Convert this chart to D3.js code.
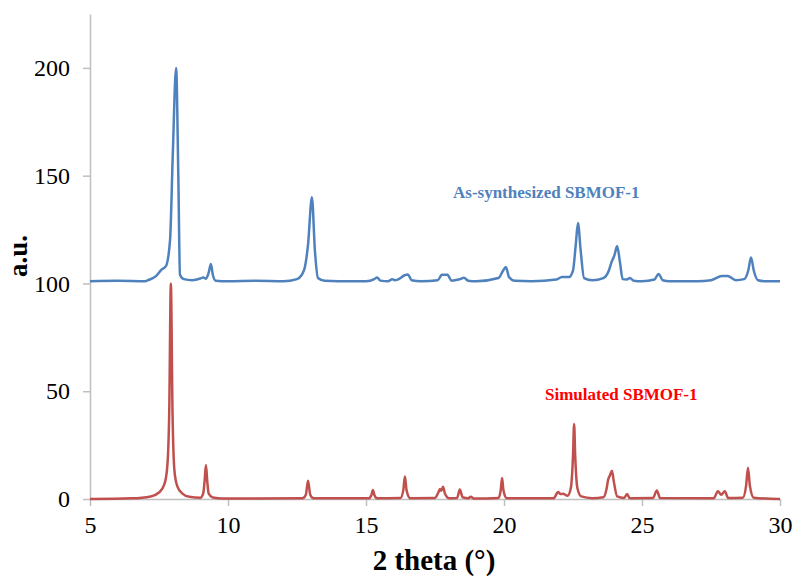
<!DOCTYPE html>
<html>
<head>
<meta charset="utf-8">
<script src="https://cdn.jsdelivr.net/npm/d3@7"></script>
<style>
    body { margin: 0; background: #fff; }
    svg text { font-family: "Liberation Serif", "Times New Roman", serif; }
    .axis path, .axis line { stroke: #bfbfbf; stroke-width: 1.5; }
</style>
</head>
<body>
<svg width="794" height="578" class="xrd"></svg>
<script>

// x ticks / y ticks
var xTicks = [5, 10, 15, 20, 25, 30];
var yTicks = [0, 50, 100, 150, 200];

// as-synthesized pattern (2 theta, a.u.)
var blueX = [5, 6, 7, 7.1, 7.4, 7.6, 7.75, 7.9, 8.0, 8.12, 8.2, 8.26, 8.4, 8.7, 9.0, 9.1, 9.2, 9.3, 9.38, 9.45, 9.55,
    10, 11, 12, 12.5, 12.75, 12.9, 13.04, 13.15, 13.26, 13.5, 14, 15, 15.3, 15.4, 15.52, 15.8, 15.95, 16.05, 16.15,
    16.4, 16.52, 16.65, 17, 17.6, 17.75, 17.95, 18.1, 18.4, 18.55, 18.7, 19, 19.8, 19.97, 20.07, 20.18, 20.4, 21,
    21.9, 22.1, 22.35, 22.5, 22.6, 22.68, 22.78, 22.9, 23.2, 23.6, 23.8, 23.9, 24.0, 24.1, 24.2, 24.3, 24.45, 24.56,
    24.7, 25, 25.45, 25.6, 25.75, 26, 27, 27.5, 27.9, 28.1, 28.4, 28.7, 28.85, 28.95, 29.05, 29.2, 29.5, 30];
var blueY = [101, 101.2, 101, 101.5, 103.5, 106.5, 108, 120, 160, 200, 150, 104, 102, 101.5, 102.3, 102.8, 102.2, 105, 109, 104, 101.3,
    101, 101.2, 101, 102, 106, 118, 140, 115, 102.5, 101.2, 101, 101, 102, 102.8, 101.3, 101, 102, 101.5, 101.8,
    103.8, 104.2, 101.5, 101, 101.5, 104, 104, 101.3, 102, 102.6, 101.3, 101, 102.5, 106, 107.6, 103, 101.2, 101,
    101.8, 103, 103, 106, 118, 128, 115, 102.5, 101.5, 102.5, 106, 110, 113, 117.4, 110, 102, 101.8, 102.5,
    101.3, 101, 101.8, 104.4, 101.5, 101, 101, 101.5, 103.5, 103.5, 101.5, 102, 106, 112, 106, 101.5, 101, 101];

// simulated pattern
var redX = [5, 6.5, 7.2, 7.5, 7.7, 7.8, 7.87, 7.93, 7.99, 8.06, 8.16, 8.35, 8.6, 9.0, 9.1, 9.15, 9.2, 9.25, 9.3, 9.45, 9.8,
    12.7, 12.82, 12.9, 12.98, 13.1, 15.1, 15.2, 15.25, 15.3, 15.4, 16.25, 16.35, 16.41, 16.47, 16.6, 17.5, 17.62,
    17.68, 17.73, 17.79, 17.86, 18.0, 18.3, 18.4, 18.5, 18.7, 18.8, 18.9, 19.8, 19.88, 19.93, 19.98, 20.1, 21.8,
    21.96, 22.05, 22.14, 22.3, 22.42, 22.5, 22.54, 22.58, 22.66, 22.8, 23.2, 23.6, 23.72, 23.77, 23.84, 23.91, 23.98,
    24.1, 24.35, 24.46, 24.55, 25.4, 25.54, 25.65, 27.6, 27.75, 27.87, 28.0, 28.12, 28.65, 28.77, 28.84, 28.91, 29.05, 30];
var redY = [0, 0.3, 1.2, 3, 7, 15, 40, 100, 40, 13, 6, 2.5, 1, 0.6, 2.5, 8, 15.8, 8, 2.5, 0.7, 0.2,
    0.3, 2, 8.5, 2, 0.3, 0.3, 2, 4.2, 2, 0.3, 0.5, 4, 10.4, 4, 0.4, 0.5, 3,
    4.6, 3.8, 5.7, 2.5, 0.4, 0.5, 4.4, 0.8, 0.3, 1.1, 0.2, 0.5, 4, 9.7, 4, 0.4, 0.4,
    3.2, 2.3, 2.4, 1.5, 5, 20, 34.8, 20, 5, 1.2, 0.4, 0.8, 5, 8.8, 11, 13.1, 8,
    1.2, 0.5, 2.3, 0.4, 0.5, 4, 0.5, 0.4, 3.6, 2, 3.6, 0.5, 0.6, 6, 14.5, 6, 0.6, 0];

var svg = d3.select("svg.xrd");

var x = d3.scaleLinear().domain([5, 30]).range([90, 780]);
var y = d3.scaleLinear().domain([0, 225]).range([499, 14]);

var xAxis = d3.axisBottom(x).tickValues(xTicks).tickSize(7).tickSizeOuter(0).tickPadding(10),
    yAxis = d3.axisLeft(y).tickValues(yTicks).tickSize(7).tickSizeOuter(0).tickPadding(13);

svg.append("g")
    .attr("class", "axis axis--y")
    .attr("transform", "translate(90,0)")
    .call(yAxis)
    .attr("font-family", null)
    .selectAll("text")
        .style("font-size", "24px")
        .style("fill", "#000");

svg.append("g")
    .attr("class", "axis axis--x")
    .attr("transform", "translate(0,499)")
    .call(xAxis)
    .attr("font-family", null)
    .selectAll("text")
        .style("font-size", "24px")
        .style("fill", "#000");

var line = d3.line()
    .x(function(d) { return x(d[0]); })
    .y(function(d) { return y(d[1]); })
    .curve(d3.curveMonotoneX);

function pairs(xs, ys) {
    return xs.map(function(v, i) { return [v, ys[i]]; });
}

svg.append("path")
    .datum(pairs(redX, redY))
    .attr("fill", "none")
    .attr("stroke", "#c0504d")
    .attr("stroke-width", 2.5)
    .attr("stroke-linejoin", "round")
    .attr("d", line);

svg.append("path")
    .datum(pairs(blueX, blueY))
    .attr("fill", "none")
    .attr("stroke", "#4f81bd")
    .attr("stroke-width", 2.5)
    .attr("stroke-linejoin", "round")
    .attr("d", line);

// series labels
svg.append("text")
    .attr("x", 453).attr("y", 198)
    .style("font-weight", "bold")
    .style("font-size", "17px")
    .style("fill", "#4f81bd")
    .text("As-synthesized SBMOF-1");

svg.append("text")
    .attr("x", 545).attr("y", 400)
    .style("font-weight", "bold")
    .style("font-size", "17px")
    .style("fill", "#ff0000")
    .text("Simulated SBMOF-1");

// axis titles
svg.append("text")
    .attr("x", 434).attr("y", 570)
    .attr("text-anchor", "middle")
    .style("font-weight", "bold")
    .style("font-size", "29px")
    .text("2 theta (°)");

svg.append("text")
    .attr("transform", "translate(27,256) rotate(-90)")
    .attr("text-anchor", "middle")
    .style("font-weight", "bold")
    .style("font-size", "27px")
    .text("a.u.");

</script>
</body>
</html>
